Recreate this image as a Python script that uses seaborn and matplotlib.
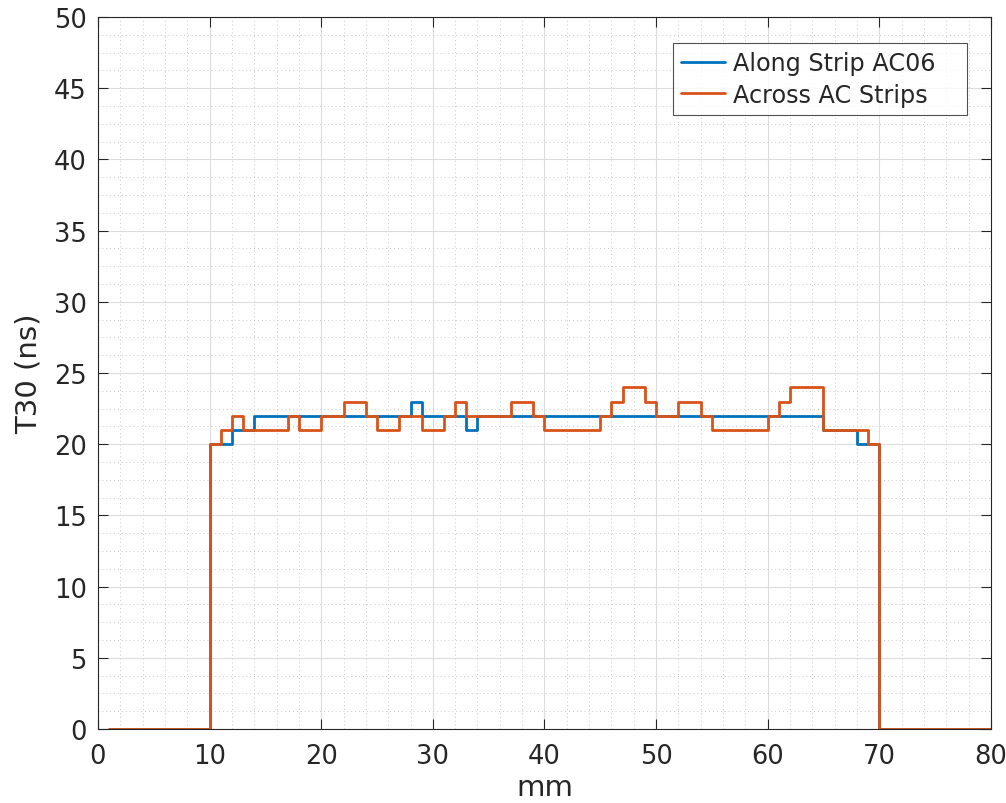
import numpy as np
import pandas as pd
import matplotlib
matplotlib.use("Agg")
import matplotlib.pyplot as plt
from matplotlib.ticker import MultipleLocator, AutoMinorLocator
from matplotlib.lines import Line2D
import seaborn as sns

# ---- data ----
x_mm = list(range(1, 81))
along_strip = ([0] * 9 + [20, 20, 21, 21] + [22] * 14 + [23] + [22] * 4 + [21]
               + [22] * 31 + [21, 21, 21, 20, 20] + [0] * 11)
across_strips = ([0] * 9 + [20, 21, 22, 21, 21, 21, 21, 22, 21, 21, 22, 22, 23, 23, 22,
                            21, 21, 22, 22, 21, 21, 22, 23, 22, 22, 22, 22, 23, 23, 22,
                            21, 21, 21, 21, 21, 22, 23, 24, 24, 23, 22, 22, 23, 23, 22,
                            21, 21, 21, 21, 21, 22, 23, 24, 24, 24, 21, 21, 21, 21, 20]
                 + [0] * 11)
series_names = ["Along Strip AC06", "Across AC Strips"]
colors = ["#0072BD", "#D95319"]

df = pd.concat([
    pd.DataFrame({"mm": x_mm, "T30": along_strip, "series": series_names[0]}),
    pd.DataFrame({"mm": x_mm, "T30": across_strips, "series": series_names[1]}),
])

sns.set_theme(style="white")
plt.rcParams["font.family"] = ["DejaVu Sans"]

fig = plt.figure(figsize=(10.06, 8.04), dpi=100)
ax = fig.add_axes([0.0974, 0.092, 0.8876, 0.8856])

sns.lineplot(data=df, x="mm", y="T30", hue="series", palette=colors,
             estimator=None, sort=False, drawstyle="steps-post",
             linewidth=2, ax=ax, legend=False)

ax.set_xlim(0, 80)
ax.set_ylim(0, 50)
ax.xaxis.set_major_locator(MultipleLocator(10))
ax.yaxis.set_major_locator(MultipleLocator(5))
ax.xaxis.set_minor_locator(AutoMinorLocator(5))
ax.yaxis.set_minor_locator(AutoMinorLocator(4))
ax.grid(which="major", color="#dcdcdc", linestyle="-", linewidth=0.8)
ax.grid(which="minor", color="#c8c8c8", linestyle=(0, (1, 3)), linewidth=0.7)
ax.set_axisbelow(True)
for s in ax.spines.values():
    s.set_color("#262626")
    s.set_linewidth(0.8)
    s.set_visible(True)
ax.tick_params(which="major", direction="in", length=7, width=0.8,
               top=True, right=True, bottom=True, left=True,
               labelsize=18.5, colors="#262626")
ax.tick_params(axis="x", which="major", pad=10)
ax.tick_params(axis="y", which="major", pad=8)
ax.tick_params(which="minor", direction="in", length=0,
               top=True, right=True, bottom=True, left=True)
ax.set_xlabel("mm", fontsize=21, color="#262626", labelpad=3)
ax.set_ylabel("T30 (ns)", fontsize=21, color="#262626", labelpad=8)

handles = [Line2D([0], [0], color=c, lw=2) for c in colors]
leg = ax.legend(handles, series_names, loc="upper left", fontsize=17.2,
                frameon=True, fancybox=False, edgecolor="#262626",
                handlelength=1.85, handletextpad=0.3, borderpad=0.35,
                labelspacing=0.3, borderaxespad=0, mode="expand",
                bbox_to_anchor=(0.6439, 0.80, 0.3292, 0.1635))
leg.get_frame().set_linewidth(0.8)

fig.savefig("out.png", dpi=100, facecolor="white")
